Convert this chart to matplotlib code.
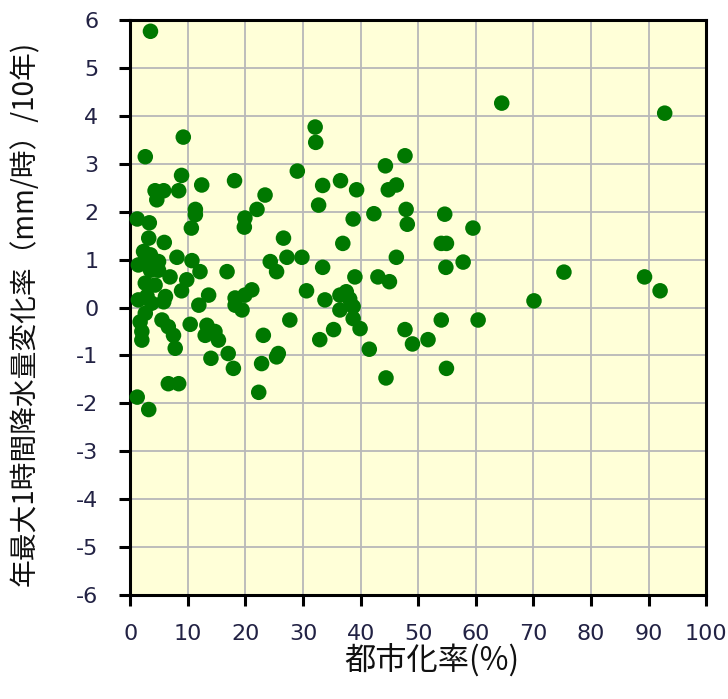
import matplotlib
matplotlib.use("Agg")
import matplotlib.pyplot as plt

plt.rcParams['font.family'] = ['Noto Sans CJK JP', 'DejaVu Sans']
plt.rcParams['axes.unicode_minus'] = False

urban_rate = [
    3.5, 64.5, 92.8, 32.1, 32.2, 9.2, 2.6, 47.7, 44.3, 29.0,
    8.9, 18.1, 36.5, 33.4, 39.3, 46.2, 44.8, 4.3, 5.8, 4.6,
    8.4, 12.4, 23.4, 32.7, 22.0, 11.3, 11.3, 42.3, 38.7, 47.9,
    48.1, 54.6, 59.5, 1.2, 3.3, 10.6, 19.9, 19.8, 3.2, 5.9,
    26.6, 36.9, 54.0, 54.9, 2.3, 3.5, 2.6, 1.4, 4.9, 8.1,
    10.7, 12.1, 16.8, 24.3, 25.4, 27.2, 29.8, 46.2, 33.4, 54.8,
    57.8, 3.5, 4.9, 6.9, 2.6, 4.3, 2.9, 9.8, 8.9, 6.1,
    13.6, 18.2, 19.9, 21.1, 30.6, 39.0, 43.0, 45.0, 75.3, 70.1,
    89.3, 92.0, 1.4, 3.7, 5.8, 2.6, 11.9, 18.2, 19.4, 33.8,
    36.4, 37.5, 38.1, 36.4, 38.7, 38.7, 39.9, 41.5, 1.7, 2.0,
    2.0, 5.5, 6.6, 7.5, 7.8, 10.4, 13.3, 13.0, 14.7, 15.3,
    17.0, 17.9, 14.0, 23.1, 27.7, 22.8, 25.4, 25.7, 32.9, 35.3,
    47.7, 49.0, 51.7, 54.0, 60.4, 44.4, 54.9, 6.6, 8.4, 22.3,
    1.2, 3.2,
]
rain_change = [
    5.77, 4.27, 4.06, 3.77, 3.45, 3.56, 3.15, 3.17, 2.96, 2.85,
    2.76, 2.65, 2.65, 2.55, 2.46, 2.56, 2.46, 2.44, 2.44, 2.25,
    2.44, 2.56, 2.35, 2.14, 2.05, 2.05, 1.94, 1.96, 1.85, 2.05,
    1.74, 1.95, 1.66, 1.85, 1.77, 1.66, 1.87, 1.68, 1.45, 1.36,
    1.45, 1.34, 1.34, 1.34, 1.17, 1.10, 0.99, 0.89, 0.96, 1.05,
    0.98, 0.75, 0.75, 0.96, 0.75, 1.05, 1.05, 1.05, 0.84, 0.84,
    0.95, 0.78, 0.78, 0.64, 0.51, 0.47, 0.24, 0.58, 0.35, 0.23,
    0.26, 0.20, 0.26, 0.37, 0.35, 0.64, 0.64, 0.54, 0.74, 0.14,
    0.64, 0.35, 0.16, 0.09, 0.12, -0.12, 0.05, 0.05, -0.05, 0.16,
    0.26, 0.33, 0.18, -0.05, 0.02, -0.23, -0.44, -0.87, -0.30, -0.50,
    -0.68, -0.26, -0.40, -0.58, -0.85, -0.35, -0.37, -0.58, -0.50, -0.68,
    -0.96, -1.27, -1.06, -0.58, -0.26, -1.17, -1.03, -0.96, -0.67, -0.46,
    -0.46, -0.76, -0.67, -0.26, -0.26, -1.47, -1.27, -1.59, -1.59, -1.77,
    -1.87, -2.13,
]

x_ticks = list(range(0, 101, 10))
y_ticks = list(range(-6, 7, 1))

fig = plt.figure(figsize=(7.28, 6.99), dpi=100)
ax = fig.add_axes([0.179, 0.149, 0.791, 0.822])
ax.set_facecolor('#FFFFD8')

ax.scatter(urban_rate, rain_change, s=125, color='#007800', edgecolors='none', zorder=3, clip_on=False)

ax.set_xlim(0, 100)
ax.set_ylim(-6, 6)
ax.set_xticks(x_ticks)
ax.set_yticks(y_ticks)
ax.grid(True, color='#B8B8B8', linewidth=1.3, zorder=0)
ax.set_axisbelow(True)

for sp in ax.spines.values():
    sp.set_color('black')
    sp.set_linewidth(2.2)

ax.tick_params(axis='both', direction='out', length=8, width=2.2, color='black',
               labelsize=16, labelcolor='#222244')
ax.tick_params(axis='x', pad=13)
ax.tick_params(axis='y', pad=15)
for lbl in ax.get_xticklabels() + ax.get_yticklabels():
    lbl.set_fontfamily('DejaVu Sans')

ax.set_xlabel('都市化率(%)', fontsize=22.5, color='#111111')
ax.xaxis.set_label_coords(0.524, -0.085)
ax.set_ylabel('年最大1時間降水量変化率（mm/時）/10年)', fontsize=20, color='#111111')
ax.yaxis.set_label_coords(-0.156, 0.49)

fig.savefig('out.png', dpi=100, facecolor='white')
